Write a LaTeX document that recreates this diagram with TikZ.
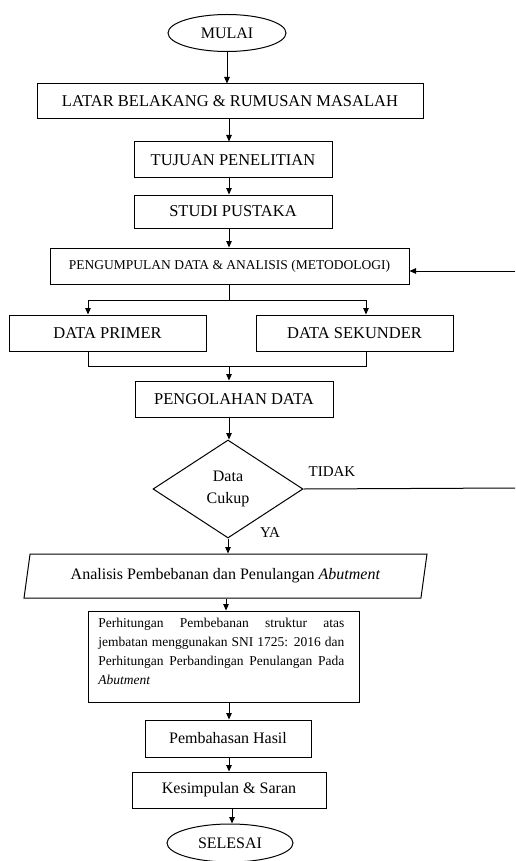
\documentclass[tikz,border=0pt]{standalone}
\usepackage{fontspec}
\setmainfont{Liberation Serif}
\usepackage{tikz}
\usetikzlibrary{shapes.geometric,arrows.meta,calc}

\tikzset{
    kotak/.style={draw, rectangle, line width=1pt, inner sep=2pt, align=center, font=\fontsize{16.5}{19}\selectfont},
    terminal/.style={draw, ellipse, line width=1pt, inner sep=1pt, font=\fontsize{16}{19}\selectfont},
    panah/.style={-{Triangle[length=6.5pt,width=5.5pt]}, line width=1pt},
    garis/.style={line width=1pt}
}

\begin{document}
\begin{tikzpicture}[x=1pt, y=-1pt]
        \useasboundingbox (0,0) rectangle (515,861);
        % alur utama
        \node[terminal, minimum width=118pt, minimum height=37pt] (mulai) at (227,33) {MULAI};
        \node[kotak, minimum width=386pt, minimum height=35pt] (latar) at (230,101.5) {LATAR BELAKANG \& RUMUSAN MASALAH};
        \node[kotak, minimum width=198pt, minimum height=36pt] (tujuan) at (233,160) {TUJUAN PENELITIAN};
        \node[kotak, minimum width=198pt, minimum height=33pt] (studi) at (233,211.5) {STUDI PUSTAKA};
        \node[kotak, minimum width=359pt, minimum height=36pt, font=\fontsize{13.5}{16}\selectfont] (kumpul) at (229.5,266) {PENGUMPULAN DATA \& ANALISIS (METODOLOGI)};
        \node[kotak, minimum width=197pt, minimum height=36pt] (primer) at (107.5,333) {DATA PRIMER};
        \node[kotak, minimum width=197pt, minimum height=36pt] (sekunder) at (354.5,333) {DATA SEKUNDER};
        \node[kotak, minimum width=198pt, minimum height=36pt] (olah) at (234,399) {PENGOLAHAN DATA};
        \node[draw, diamond, line width=1pt, minimum width=150pt, minimum height=98pt, inner sep=0pt, align=center, font=\fontsize{16}{22}\selectfont] (cek) at (228,489) {Data\\Cukup};
        \node[draw, trapezium, trapezium left angle=77, trapezium right angle=103, trapezium stretches=true, line width=1pt, minimum width=405pt, minimum height=44pt, font=\fontsize{16}{19}\selectfont] (analisis) at (225.5,576) {Analisis Pembebanan dan Penulangan \textit{Abutment}};
        \node[kotak, minimum width=271pt, minimum height=91pt, inner sep=3pt] (hitung) at (223.5,656.5) {
            \begin{minipage}[c][85pt][t]{246pt}
                \fontsize{13.5}{19}\selectfont\hyphenpenalty=10000\exhyphenpenalty=10000\emergencystretch=3em
                \vspace{4pt}
                Perhitungan Pembebanan struktur atas jembatan menggunakan SNI 1725: 2016 dan Perhitungan Perbandingan Penulangan Pada \textit{Abutment}
            \end{minipage}
        };
        \node[kotak, minimum width=166pt, minimum height=37pt, font=\fontsize{16}{19}\selectfont] (bahas) at (228,738.5) {Pembahasan Hasil};
        \node[kotak, minimum width=194pt, minimum height=36pt, font=\fontsize{16}{19}\selectfont] (simpul) at (229,790) {Kesimpulan \& Saran};
        \node[terminal, minimum width=126pt, minimum height=38pt] (selesai) at (230,843) {SELESAI};

        % label keputusan
        \node[font=\fontsize{15}{18}\selectfont] (tidak) at (332,472) {TIDAK};
        \node[font=\fontsize{15}{18}\selectfont] (ya) at (270,533) {YA};

        % titik bantu
        \coordinate (ki) at (88,300);
        \coordinate (ka) at (366,300);
        \coordinate (gabung) at (229,366);
        \coordinate (kanan1) at (515,271);
        \coordinate (kanan2) at (515,488);

        % panah
        \draw[panah] (mulai.south) -- (mulai.south |- latar.north);
        \draw[panah] (229,0 |- latar.south) -- (229,0 |- tujuan.north);
        \draw[panah] (229,0 |- tujuan.south) -- (229,0 |- studi.north);
        \draw[panah] (229,0 |- studi.south) -- (229,0 |- kumpul.north);
        \draw[garis] (229,0 |- kumpul.south) -- (229,300);
        \draw[garis] (ki) -- (ka);
        \draw[panah] (ki) -- (ki |- primer.north);
        \draw[panah] (ka) -- (ka |- sekunder.north);
        \draw[garis] (ki |- primer.south) -- (88,366) -- (366,366) -- (ka |- sekunder.south);
        \draw[panah] (gabung) -- (gabung |- olah.north);
        \draw[panah] (229,0 |- olah.south) -- (229,0 |- cek.north);
        \draw[panah] (cek.south) -- (cek.south |- analisis.north);
        \draw[panah] (226,0 |- analisis.south) -- (226,0 |- hitung.north);
        \draw[panah] (229,0 |- hitung.south) -- (229,0 |- bahas.north);
        \draw[panah] (229,0 |- bahas.south) -- (229,0 |- simpul.north);
        \draw[panah] (232,0 |- simpul.south) -- (232,0 |- selesai.north);
        \draw[garis] (cek.east) -- (kanan2);
        \draw[panah] (kanan1) -- (kanan1 -| kumpul.east);
    \end{tikzpicture}
\end{document}
